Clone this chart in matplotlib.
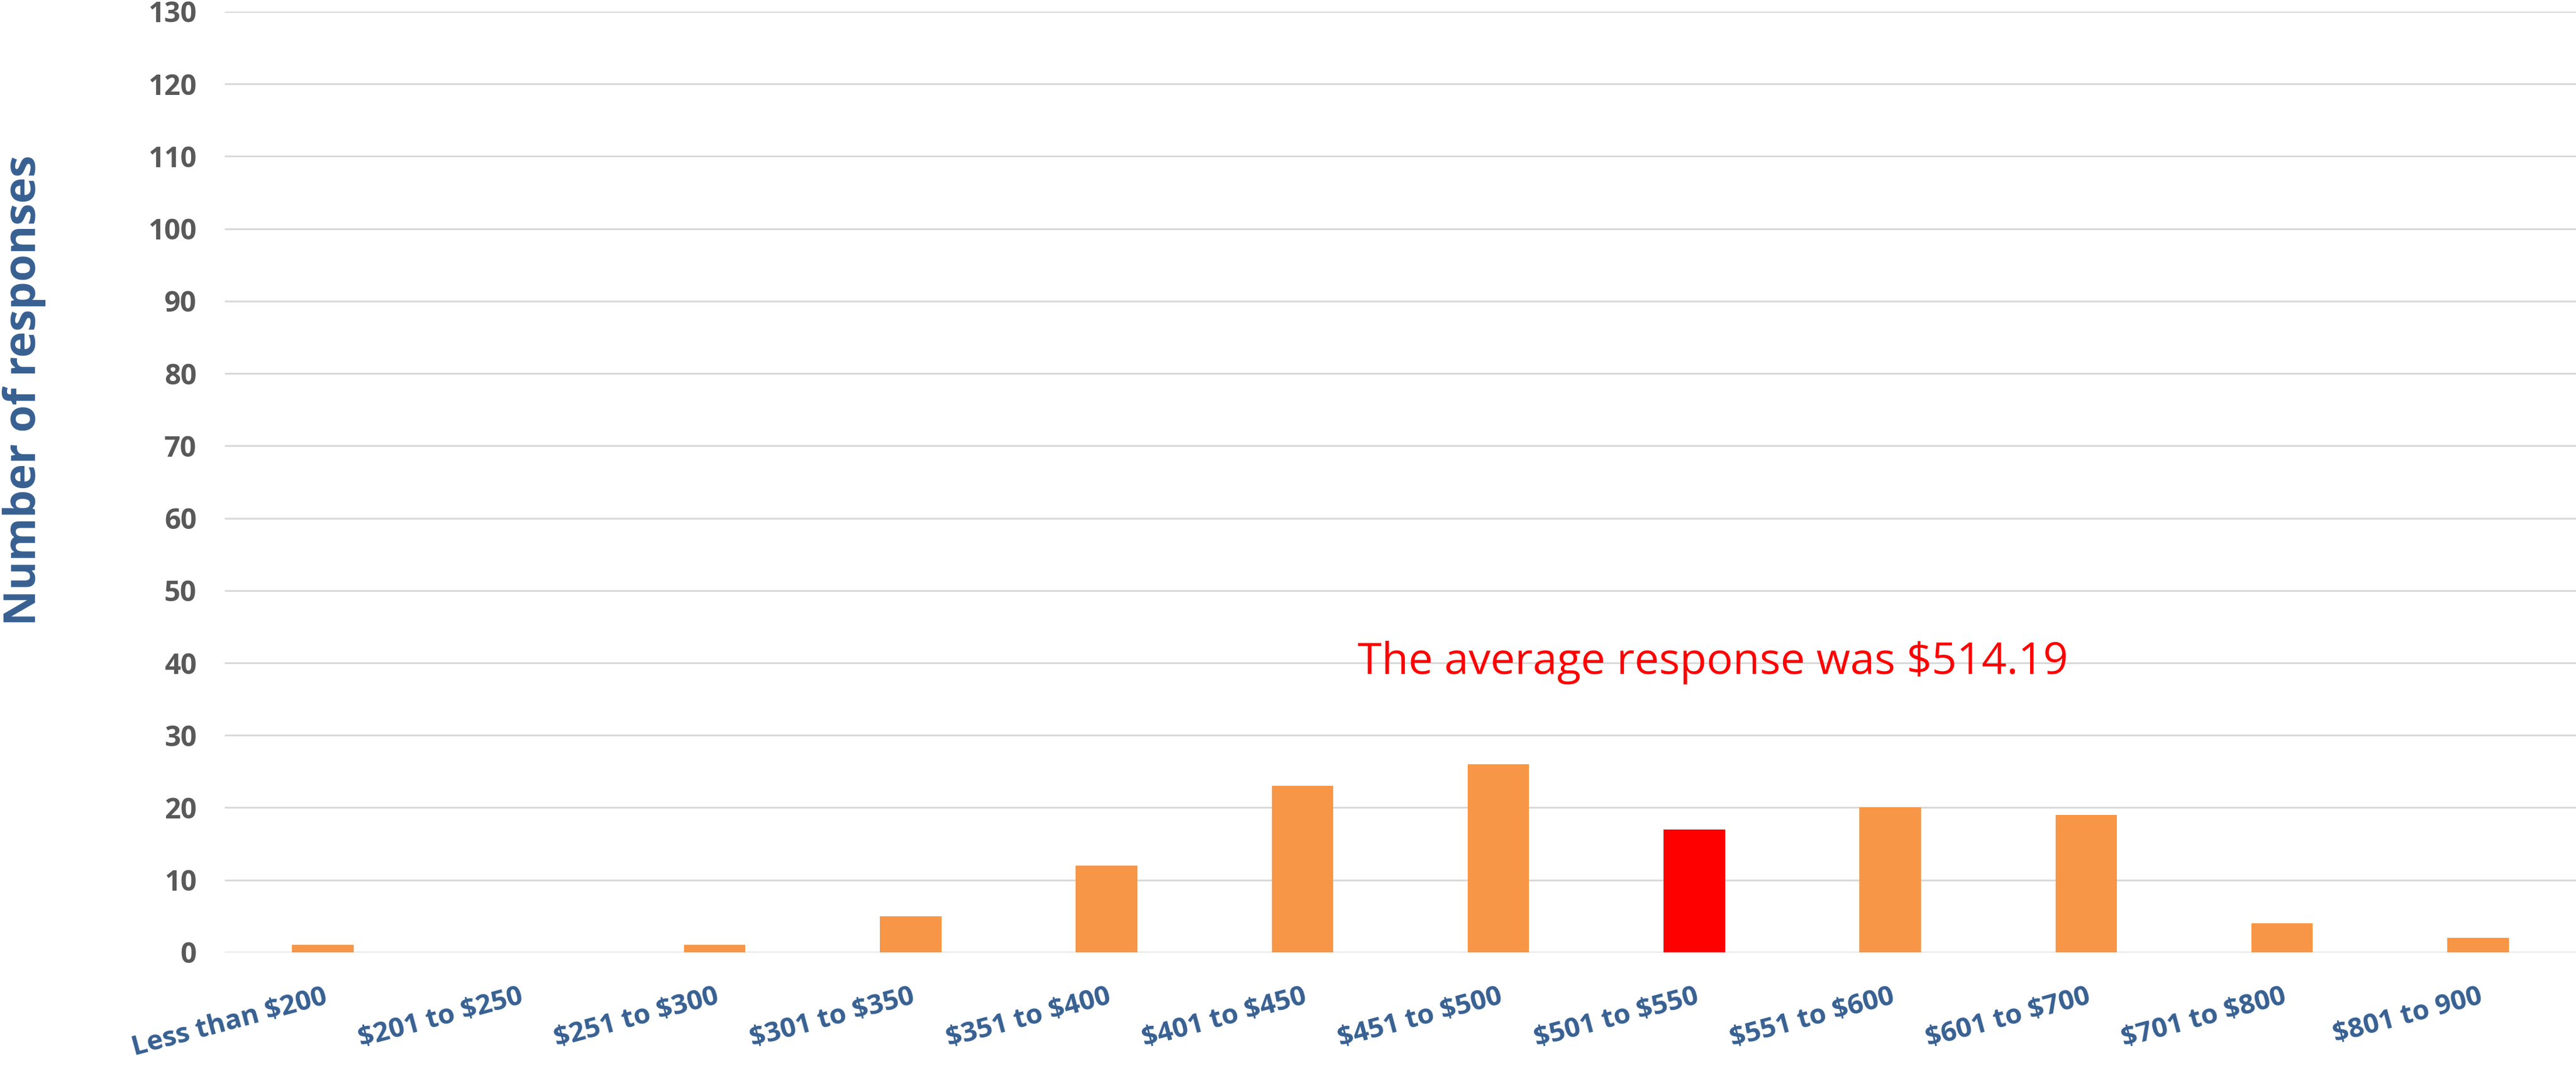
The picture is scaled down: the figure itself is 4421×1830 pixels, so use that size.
import matplotlib.pyplot as plt

plt.rcParams["font.family"] = ["Open Sans", "DejaVu Sans"]
plt.rcParams["text.parse_math"] = False

categories = ["Less than $200", "$201 to $250", "$251 to $300", "$301 to $350",
              "$351 to $400", "$401 to $450", "$451 to $500", "$501 to $550",
              "$551 to $600", "$601 to $700", "$701 to $800", "$801 to 900"]
responses = [1, 0, 1, 5, 12, 23, 26, 17, 20, 19, 4, 2]
highlight = "$501 to $550"
yticks = list(range(0, 131, 10))

orange = "#F79646"
blue = "#376092"
grey = "#595959"

fig = plt.figure(figsize=(44.21, 18.30), dpi=100)
ax = fig.add_axes([0.0873, 0.1066, 0.9127, 0.8825])

colors = ["#FF0000" if c == highlight else orange for c in categories]
x = list(range(len(categories)))
ax.bar(x, responses, width=0.314, color=colors, zorder=3)

ax.set_xlim(-0.5, len(categories) - 0.5)
ax.set_ylim(0, 130)
ax.set_yticks(yticks)
ax.yaxis.grid(True, color="#D9D9D9", linewidth=2.2, zorder=0)
ax.set_axisbelow(True)
for s in ax.spines.values():
    s.set_visible(False)

ax.tick_params(axis="y", length=0, pad=35, labelsize=35, labelcolor=grey)
for t in ax.get_yticklabels():
    t.set_fontweight("bold")

ax.set_xticks(x)
ax.set_xticklabels(categories, rotation=15, ha="right", va="top",
                   rotation_mode="anchor", fontsize=34, fontweight="bold",
                   color=blue)
ax.tick_params(axis="x", length=0, pad=38)

fig.text(0.0095, 0.634, "Number of responses", rotation=90, ha="center",
         va="center", fontsize=54.5, fontweight="bold", color=blue)

ax.text(5.28, 38.5, "The average response was $514.19", color="#FF0000",
        fontsize=54, ha="left", va="baseline")

fig.savefig("out.png", dpi=100)
